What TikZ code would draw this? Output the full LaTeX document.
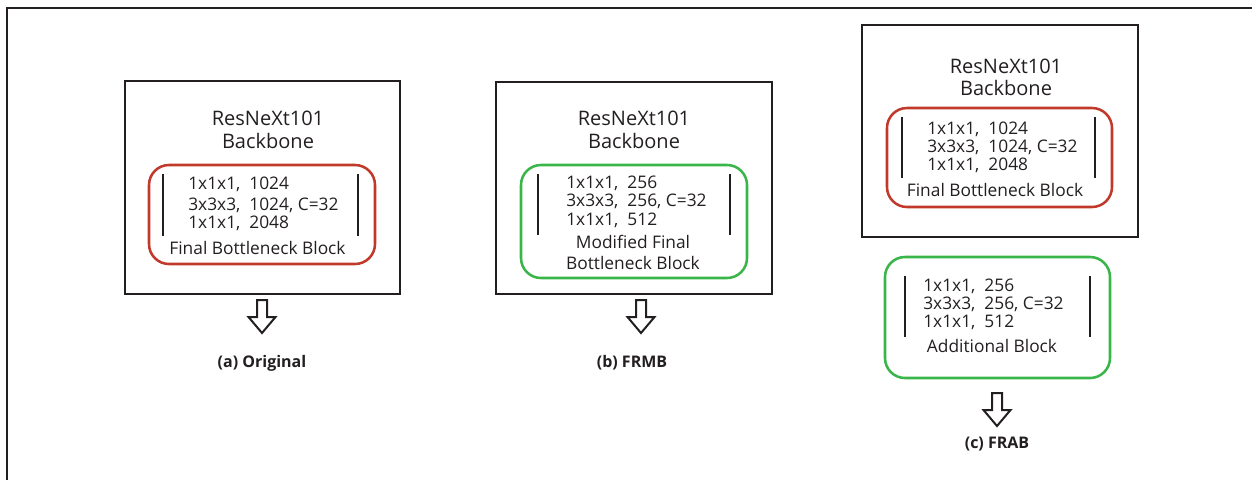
\documentclass[tikz,border=0pt]{standalone}
\usepackage{fontspec}
\setmainfont{Open Sans}
\definecolor{ink}{HTML}{231F20}
\definecolor{boxred}{HTML}{C0392B}
\definecolor{boxgreen}{HTML}{39B54A}
\tikzset{
  frame/.style={draw=ink, line width=2.1pt, inner sep=0pt},
  redblock/.style={draw=boxred, line width=1.9pt, rounded corners=15pt, inner sep=0pt},
  greenblock/.style={draw=boxgreen, line width=1.9pt, rounded corners=15pt, inner sep=0pt},
  bar/.style={draw=ink, line width=1.5pt},
  titletext/.style={font=\fontsize{15}{18}\selectfont, text=ink, anchor=base, inner sep=0pt},
  spectext/.style={font=\fontsize{13}{15}\selectfont, text=ink, anchor=base west, inner sep=0pt},
  captext/.style={font=\fontsize{13}{15}\selectfont, text=ink, anchor=base, inner sep=0pt},
  subcap/.style={font=\fontsize{12}{14}\selectfont\bfseries, text=ink, anchor=base, inner sep=0pt},
  hollowarrow/.pic={
    \draw[ink, line width=1.5pt, line join=miter]
      (-5,0) -- (-5,17) -- (-13.5,17) -- (0,33) -- (13.5,17) -- (5,17) -- (5,0) -- cycle;
  }
}
\begin{document}
\begin{tikzpicture}[x=0.75pt, y=-0.75pt]
\useasboundingbox (0,0) rectangle (1253,480);

% outer frame (top and left edges only)
\draw[ink, line width=2.1pt] (7,480) -- (7,8) -- (1252,8);

% ---------- (a) Original ----------
\node[frame, minimum width=275*0.75pt, minimum height=213*0.75pt] (boxA) at (262.5,187.5) {};
\node[titletext] (titleA1) at (268,125) {ResNeXt101};
\node[titletext] (titleA2) at (268,148) {Backbone};
\node[redblock, minimum width=226*0.75pt, minimum height=99*0.75pt] (blockA) at (262,214.5) {};
\draw[bar] (163,174) -- (163,236);
\draw[bar] (358,174) -- (358,236);
\node[spectext] (specA1) at (188,189) {1x1x1,~~1024};
\node[spectext] (specA2) at (188,210) {3x3x3,~~1024, C=32};
\node[spectext] (specA3) at (188,228) {1x1x1,~~2048};
\node[captext] (capA) at (257.5,254) {Final Bottleneck Block};
\pic (arrA) at (262,300) {hollowarrow};
\node[subcap] (subA) at (262,367) {(a) Original};

% ---------- (b) FRMB ----------
\node[frame, minimum width=276*0.75pt, minimum height=212*0.75pt] (boxB) at (634,188) {};
\node[titletext] (titleB1) at (634,125) {ResNeXt101};
\node[titletext] (titleB2) at (634,148) {Backbone};
\node[greenblock, minimum width=226*0.75pt, minimum height=113*0.75pt] (blockB) at (634,221.5) {};
\draw[bar] (538,174) -- (538,235);
\draw[bar] (730,174) -- (730,235);
\node[spectext] (specB1) at (566,188) {1x1x1,~~256};
\node[spectext] (specB2) at (566,206) {3x3x3,~~256, C=32};
\node[spectext] (specB3) at (566,225) {1x1x1,~~512};
\node[captext] (capB1) at (633,248) {Modified Final};
\node[captext] (capB2) at (633,269) {Bottleneck Block};
\pic (arrB) at (641,300) {hollowarrow};
\node[subcap] (subB) at (632,367) {(b) FRMB};

% ---------- (c) FRAB ----------
\node[frame, minimum width=276*0.75pt, minimum height=212*0.75pt] (boxC) at (1000,131) {};
\node[titletext] (titleC1) at (1006,73) {ResNeXt101};
\node[titletext] (titleC2) at (1006,95) {Backbone};
\node[redblock, minimum width=225*0.75pt, minimum height=99*0.75pt] (blockC) at (999.5,157.5) {};
\draw[bar] (902,117) -- (902,178);
\draw[bar] (1095,117) -- (1095,178);
\node[spectext] (specC1) at (927,134) {1x1x1,~~1024};
\node[spectext] (specC2) at (927,152) {3x3x3,~~1024, C=32};
\node[spectext] (specC3) at (927,170) {1x1x1,~~2048};
\node[captext] (capC) at (995,196) {Final Bottleneck Block};

\node[greenblock, minimum width=225*0.75pt, minimum height=121*0.75pt] (blockD) at (997.5,317.5) {};
\draw[bar] (905,276) -- (905,337);
\draw[bar] (1090,276) -- (1090,337);
\node[spectext] (specD1) at (923,291) {1x1x1,~~256};
\node[spectext] (specD2) at (923,309) {3x3x3,~~256, C=32};
\node[spectext] (specD3) at (923,327) {1x1x1,~~512};
\node[captext] (capD) at (992,352) {Additional Block};
\pic (arrC) at (997,393) {hollowarrow};
\node[subcap] (subC) at (997,448) {(c) FRAB};
\end{tikzpicture}
\end{document}
